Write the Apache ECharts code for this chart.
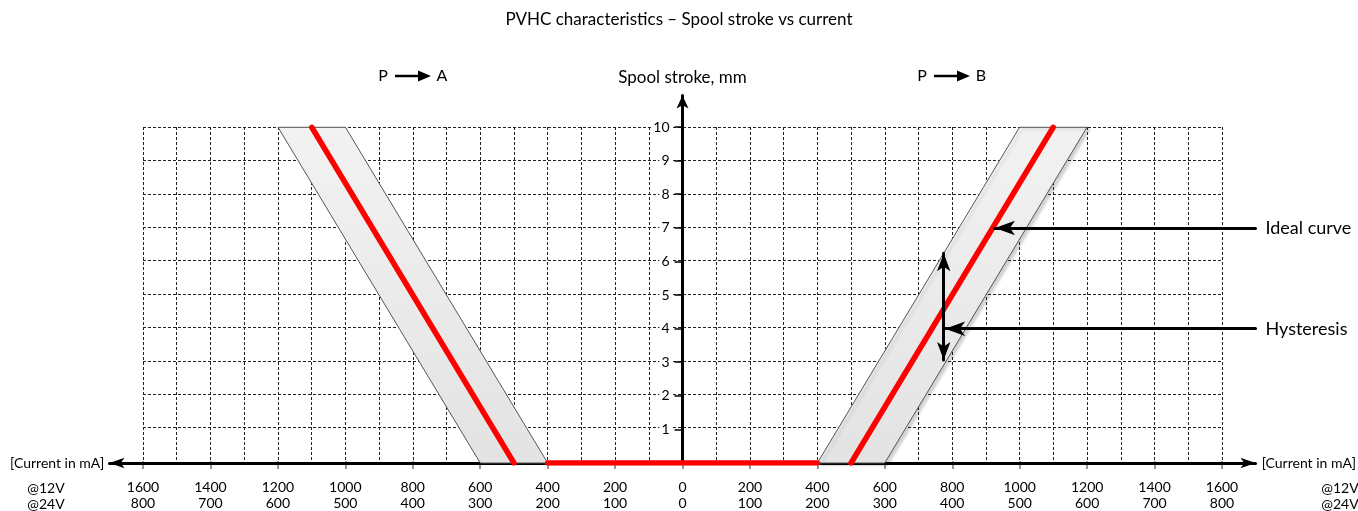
<!DOCTYPE html>
<html>
<head>
<meta charset="utf-8">
<title>PVHC characteristics</title>
<script src="https://cdn.jsdelivr.net/npm/echarts@6/dist/echarts.min.js"></script>
<style>
    html, body { margin: 0; padding: 0; background: #fff; }
    #chart { width: 1358px; height: 511px; }
</style>
</head>
<body>
<div id="chart"></div>
<script>
// current axis, signed: left half = P -> A, right half = P -> B
const xTicks = [-1600, -1400, -1200, -1000, -800, -600, -400, -200, 0, 200, 400, 600, 800, 1000, 1200, 1400, 1600]
const labels12V = ['1600', '1400', '1200', '1000', '800', '600', '400', '200', '0', '200', '400', '600', '800', '1000', '1200', '1400', '1600']
const labels24V = ['800', '700', '600', '500', '400', '300', '200', '100', '0', '100', '200', '300', '400', '500', '600', '700', '800']

// ideal curve [current mA, stroke mm]
const idealPA = [[-1100, 10], [-500, 0]]
const deadBand = [[-400, 0], [400, 0]]
const idealPB = [[500, 0], [1100, 10]]

// hysteresis bands
const bandPA = [[-1200, 10], [-1000, 10], [-400, 0], [-600, 0]]
const bandPB = [[400, 0], [600, 0], [1200, 10], [1000, 10]]

// callouts on the right
const calloutNames = ['Ideal curve', 'Hysteresis']
const calloutY = [7, 4]
const calloutTipX = [927, 779]
const calloutStartX = 1700
const hystArrowX = 775
const hystArrowY = [6.25, 3.07]

const FONT = 'Lato, "Open Sans", sans-serif'
const bands = [bandPA, bandPB]

const chart = echarts.init(document.getElementById('chart'))

// grid lines
const gridLine = { color: '#222', width: 1, type: [3, 2] }
// ideal curve style
const redLine = { color: '#ff0000', width: 5.5, cap: 'round' }

const renderBand = (params, api) => {
    const idx = api.value(0)
    const pts = bands[idx].map(p => api.coord(p))
    return {
        type: 'polygon',
        shape: { points: pts },
        style: {
            fill: new echarts.graphic.LinearGradient(0, 0, 0, 1, [
                { offset: 0, color: '#f2f2f2' },
                { offset: 1, color: '#e3e3e3' }
            ]),
            stroke: '#555',
            lineWidth: 1,
            shadowColor: idx === 1 ? 'rgba(0,0,0,0.18)' : 'transparent',
            shadowBlur: idx === 1 ? 3 : 0,
            shadowOffsetX: idx === 1 ? 3 : 0,
            shadowOffsetY: idx === 1 ? 2 : 0
        }
    }
}

const text = (str, x, y, size, align) => ({
    type: 'text',
    x: x,
    y: y,
    silent: true,
    style: {
        text: str,
        font: size + 'px ' + FONT,
        fill: '#000',
        align: align || 'center',
        verticalAlign: 'middle',
        textAlign: align || 'center',
        textVerticalAlign: 'middle'
    }
})

// "P -> A" style headers
const flowHeader = (from, to, x) => [
    text(from, x, 76, 16),
    {
        type: 'line', silent: true,
        shape: { x1: x + 12, y1: 76, x2: x + 38, y2: 76 },
        style: { stroke: '#000', lineWidth: 2.5 }
    },
    {
        type: 'polygon', silent: true,
        shape: { points: [[x + 35, 70.5], [x + 48, 76], [x + 35, 81.5]] },
        style: { fill: '#000' }
    },
    text(to, x + 59, 76, 16)
]

const option = {
    animation: false,
    title: {
        text: 'PVHC characteristics – Spool stroke vs current',
        left: 'center',
        top: 6,
        textStyle: { fontFamily: FONT, fontSize: 17, fontWeight: 'normal', color: '#000' }
    },
    grid: [
        { left: 143, right: 136, top: 127, bottom: 48 },
        { left: 109.5, right: 102.5, top: 95.4, bottom: 48 },
        { left: 682.5, right: 136, top: 127, bottom: 48 }
    ],
    xAxis: [
        {
            gridIndex: 0,
            type: 'value',
            min: -1600,
            max: 1600,
            interval: 200,
            axisLine: { show: false },
            axisTick: { show: true, length: 8, lineStyle: { color: '#777', width: 1.5 } },
            axisLabel: {
                margin: 18,
                fontFamily: FONT,
                fontSize: 14,
                lineHeight: 16,
                color: '#000',
                formatter: v => {
                    const i = xTicks.indexOf(v)
                    return labels12V[i] + '\n' + labels24V[i]
                }
            },
            splitLine: { show: true, lineStyle: gridLine },
            minorTick: { show: false, splitNumber: 2 },
            minorSplitLine: { show: true, lineStyle: gridLine }
        },
        {
            gridIndex: 1,
            type: 'value',
            min: -1700,
            max: 1700,
            z: 1,
            axisLine: {
                show: true,
                symbol: ['arrow', 'arrow'],
                symbolSize: [8, 15],
                lineStyle: { color: '#000', width: 3 }
            },
            axisTick: { show: false },
            axisLabel: { show: false },
            splitLine: { show: false }
        },
        {
            gridIndex: 2,
            type: 'value',
            min: 0,
            max: 1600,
            show: false
        }
    ],
    yAxis: [
        {
            gridIndex: 0,
            type: 'value',
            min: 0,
            max: 10,
            interval: 1,
            axisLine: { show: false },
            axisTick: { show: false },
            axisLabel: { show: false },
            splitLine: { show: true, showMinLine: false, lineStyle: gridLine }
        },
        {
            gridIndex: 1,
            type: 'value',
            min: 0,
            max: 10.95,
            z: 1,
            name: 'Spool stroke, mm',
            nameLocation: 'end',
            nameGap: 9,
            nameTextStyle: { fontFamily: FONT, fontSize: 17, color: '#000' },
            axisLine: {
                show: true,
                onZero: true,
                symbol: ['none', 'arrow'],
                symbolSize: [9, 13],
                lineStyle: { color: '#000', width: 3 }
            },
            axisTick: { show: false },
            axisLabel: { show: false },
            splitLine: { show: false }
        },
        {
            gridIndex: 2,
            type: 'value',
            position: 'left',
            min: 0,
            max: 10,
            interval: 1,
            z: 1,
            axisLine: { show: false, onZero: false },
            axisTick: { show: true, length: 8, lineStyle: { color: '#000', width: 1.5 } },
            axisLabel: {
                margin: 11,
                showMinLabel: false,
                fontFamily: FONT,
                fontSize: 14,
                color: '#000',
                backgroundColor: '#fff',
                padding: [0, 2]
            },
            splitLine: { show: false }
        }
    ],
    graphic: [
        text('[Current in mA]', 10, 463, 14, 'left'),
        text('[Current in mA]', 1356, 463, 14, 'right'),
        text('@12V', 46, 488, 14),
        text('@24V', 46, 504, 14),
        text('@12V', 1340, 488, 14),
        text('@24V', 1340, 504, 14),
        ...flowHeader('P', 'A', 383),
        ...flowHeader('P', 'B', 922)
    ],
    series: [
        {
            name: 'Hysteresis band',
            type: 'custom',
            xAxisIndex: 1,
            yAxisIndex: 1,
            silent: true,
            z: 2,
            data: [[0, 0], [1, 0]],
            renderItem: renderBand
        },
        {
            name: 'Ideal P-A',
            type: 'line',
            xAxisIndex: 1,
            yAxisIndex: 1,
            silent: true,
            z: 3,
            symbol: 'none',
            lineStyle: redLine,
            data: idealPA
        },
        {
            name: 'Dead band',
            type: 'line',
            xAxisIndex: 1,
            yAxisIndex: 1,
            silent: true,
            z: 3,
            symbol: 'none',
            lineStyle: redLine,
            data: deadBand
        },
        {
            name: 'Ideal P-B',
            type: 'line',
            xAxisIndex: 1,
            yAxisIndex: 1,
            silent: true,
            z: 3,
            symbol: 'none',
            lineStyle: redLine,
            data: idealPB,
            markLine: {
                silent: true,
                animation: false,
                z: 6,
                symbol: ['none', 'arrow'],
                lineStyle: { color: '#000', width: 3, type: 'solid', cap: 'round' },
                itemStyle: { color: '#000' },
                emphasis: { disabled: true },
                label: {
                    show: true,
                    position: 'start',
                    distance: 10,
                    formatter: p => p.name,
                    fontFamily: FONT,
                    fontSize: 18,
                    color: '#000'
                },
                data: [
                    ...calloutNames.map((name, i) => [
                        { name: name, coord: [calloutStartX, calloutY[i]], symbol: 'none' },
                        { coord: [calloutTipX[i], calloutY[i]], symbol: 'arrow', symbolSize: [11, 20] }
                    ]),
                    [
                        { coord: [hystArrowX, hystArrowY[0]], symbol: 'arrow', symbolSize: [10, 18], label: { show: false } },
                        { coord: [hystArrowX, hystArrowY[1]], symbol: 'arrow', symbolSize: [10, 18] }
                    ]
                ]
            }
        }
    ]
}

chart.setOption(option)
</script>
</body>
</html>
